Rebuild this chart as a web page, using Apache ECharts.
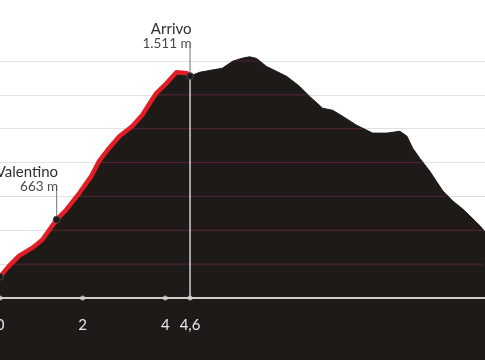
<!DOCTYPE html>
<html><head><meta charset="utf-8">
<script src="https://cdn.jsdelivr.net/npm/echarts@6/dist/echarts.min.js"></script>
<style>html,body{margin:0;padding:0;background:#fff}#c{width:485px;height:360px}</style>
</head><body><div id="c"></div>
<script>
// Terrain profile (distance in km, elevation in m)
const distKm = [0, 0.22, 0.46, 0.78, 1.02, 1.37, 1.60, 1.92, 2.21, 2.40, 2.64, 2.89, 3.20, 3.44, 3.78, 4.03, 4.27, 4.53, 4.60, 4.83, 5.14, 5.38, 5.63, 5.84, 6.04, 6.21, 6.45, 6.69, 6.94, 7.25, 7.49, 7.81, 8.05, 8.29, 8.63, 9.02, 9.36, 9.68, 9.85, 9.99, 10.16, 10.40, 10.72, 10.96, 11.20, 11.45, 11.62, 11.74];
const elevM = [326, 390, 449, 496, 543, 663, 720, 820, 920, 1009, 1085, 1156, 1215, 1280, 1409, 1468, 1533, 1527, 1511, 1533, 1547, 1557, 1598, 1615, 1625, 1615, 1568, 1539, 1509, 1451, 1392, 1321, 1309, 1274, 1221, 1174, 1174, 1185, 1156, 1085, 1026, 950, 832, 773, 726, 667, 626, 591];
const routeEndKm = 4.6;
// x axis tick values / labels
const tickValues = [0, 2, 4, 4.6];
const tickLabels = ['0', '2', '4', '4,6'];
// elevation grid
const yMin = 200, yMax = 1600, yStep = 200;
const gridValues = [400, 600, 800, 1000, 1200, 1400, 1600];
// points of interest
const poiNames = ['', 'Valentino', 'Arrivo'];
const poiValueLabels = ['', '663 m', '1.511 m'];
const poiDist = [0, 1.37, 4.6];
const poiElev = [326, 663, 1511];
const poiDrop = [false, false, true];

const terrain = distKm.map((d, i) => [d, elevM[i]]);
const route = terrain.filter(p => p[0] <= routeEndKm + 1e-9);

function aboveIntervals(v) {
  const segs = []; let start = null;
  for (let i = 0; i < distKm.length; i++) {
    const e = elevM[i], d = distKm[i];
    if (i === 0) { if (e >= v) start = d; continue; }
    const e0 = elevM[i - 1], d0 = distKm[i - 1];
    if ((e0 < v) !== (e < v)) {
      const t = (v - e0) / (e - e0); const dx = d0 + t * (d - d0);
      if (e >= v) start = dx; else { segs.push([start, dx]); start = null; }
    }
  }
  if (start !== null) segs.push([start, distKm[distKm.length - 1]]);
  return segs;
}

const FONT = 'Lato, "Open Sans", sans-serif';
const chart = echarts.init(document.getElementById('c'), null, {renderer: 'canvas'});
chart.setOption({
  animation: false,
  backgroundColor: '#ffffff',
  grid: {left: 0, right: 0, top: 61, bottom: 62, containLabel: false, outerBoundsMode: 'none'},
  xAxis: {
    type: 'value', min: 0, max: distKm[distKm.length - 1], z: 5,
    axisLine: {show: true, lineStyle: {color: '#cfcfcf', width: 2}},
    axisTick: {show: false},
    splitLine: {show: false},
    axisLabel: {
      customValues: tickValues, margin: 20, color: '#e8e8e8', fontSize: 15, fontFamily: FONT,
      formatter: v => { const i = tickValues.findIndex(t => Math.abs(t - v) < 1e-6); return i >= 0 ? tickLabels[i] : ''; }
    }
  },
  yAxis: {
    type: 'value', min: yMin, max: yMax, interval: yStep,
    axisLine: {show: false}, axisTick: {show: false}, axisLabel: {show: false},
    splitLine: {show: true, lineStyle: {color: '#e2e2e2', width: 1}}
  },
  series: [
    {
      type: 'line', data: terrain, symbol: 'none', clip: false, z: 2, silent: true,
      lineStyle: {color: '#1d1a17', width: 1},
      areaStyle: {color: '#1d1a17', opacity: 1, origin: -400}
    },
    {
      type: 'custom', z: 3, silent: true, clip: false,
      data: gridValues.map(v => [0, v]),
      encode: {x: 0, y: 1},
      renderItem: (params, api) => {
        const v = gridValues[params.dataIndex];
        const children = aboveIntervals(v).map(s => {
          const a = api.coord([s[0], v]), b = api.coord([s[1], v]);
          return {type: 'line', shape: {x1: a[0] + 2, y1: a[1], x2: b[0] - 2, y2: b[1]}, style: {stroke: '#4f2331', lineWidth: 1.2}};
        });
        return {type: 'group', children};
      }
    },
    {
      type: 'line', data: route, symbol: 'none', clip: false, z: 4, silent: true,
      lineStyle: {color: '#e31d25', width: 4.5, cap: 'round', join: 'round'}
    },
    {
      type: 'scatter', data: tickValues.map(v => [v, yMin]), symbolSize: 5, z: 6, silent: true,
      itemStyle: {color: '#cfcfcf'}
    },
    {
      type: 'custom', z: 7, silent: true, clip: false,
      data: poiDist.map((d, i) => [d, poiElev[i]]),
      encode: {x: 0, y: 1},
      renderItem: (params, api) => {
        const i = params.dataIndex;
        const p = api.coord([poiDist[i], poiElev[i]]);
        const children = [];
        if (poiDrop[i]) {
          const b = api.coord([poiDist[i], yMin]);
          children.push({type: 'line', shape: {x1: p[0], y1: p[1], x2: p[0], y2: b[1]}, style: {stroke: '#d0d0d0', lineWidth: 1.5}});
        }
        if (poiNames[i]) {
          children.push({type: 'line', shape: {x1: p[0], y1: p[1] - 28.5, x2: p[0], y2: p[1]}, style: {stroke: '#8a8a8a', lineWidth: 1.2}});
          children.push({type: 'text', style: {text: poiNames[i], x: p[0] + 1.5, y: p[1] - 47, align: 'right', verticalAlign: 'middle', fill: '#2e2e2e', fontSize: 15, fontFamily: FONT}});
          children.push({type: 'text', style: {text: poiValueLabels[i], x: p[0] + 1.5, y: p[1] - 32.5, align: 'right', verticalAlign: 'middle', fill: '#4a4a4a', fontSize: 13.5, fontFamily: FONT}});
        }
        children.push({type: 'circle', shape: {cx: p[0], cy: p[1], r: 3.5}, style: {fill: '#1d1a17', stroke: '#666', lineWidth: 0.6}});
        return {type: 'group', children};
      }
    }
  ]
});
</script></body></html>
